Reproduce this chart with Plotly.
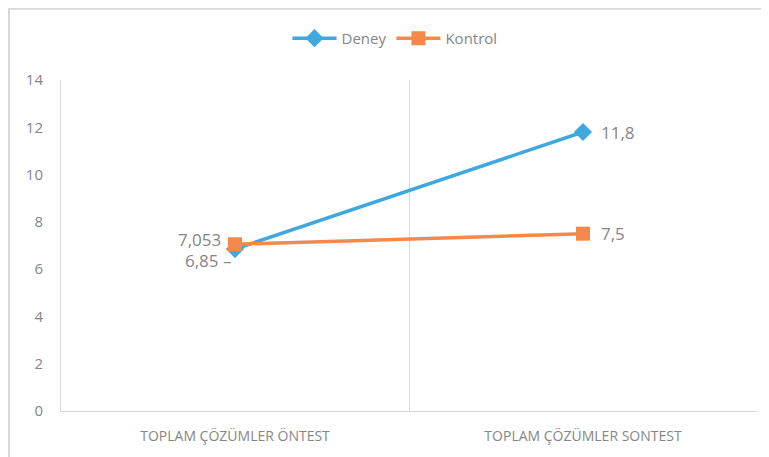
import plotly.graph_objects as go

categories = ["TOPLAM ÇÖZÜMLER ÖNTEST", "TOPLAM ÇÖZÜMLER SONTEST"]
deney = [6.85, 11.8]
kontrol = [7.053, 7.5]
y_ticks = [0, 2, 4, 6, 8, 10, 12, 14]

BLUE = "#3FA8DF"
ORANGE = "#F5894C"
TXT = "#868686"
GRID = "#D9D9D9"
FONT = "Open Sans"

def fmt(v):
    return ("%g" % v).replace(".", ",")

fig = go.Figure()
fig.add_trace(go.Scatter(
    x=categories, y=deney, name="Deney", mode="lines+markers",
    line=dict(color=BLUE, width=3.5),
    marker=dict(symbol="diamond", size=14, color=BLUE),
))
fig.add_trace(go.Scatter(
    x=categories, y=kontrol, name="Kontrol", mode="lines+markers",
    line=dict(color=ORANGE, width=3.5),
    marker=dict(symbol="square", size=14, color=ORANGE),
))

LF = dict(family=FONT, size=17, color=TXT)
annotations = [
    dict(x=categories[0], y=kontrol[0], text=fmt(kontrol[0]), xanchor="right", yanchor="middle",
         xshift=-12, yshift=5, showarrow=False, font=LF),
    dict(x=categories[0], y=deney[0], text=fmt(deney[0]) + " –", xanchor="right", yanchor="middle",
         xshift=-2, yshift=-11, showarrow=False, font=LF),
    dict(x=categories[1], y=deney[1], text=fmt(deney[1]), xanchor="left", yanchor="middle",
         xshift=16, yshift=0, showarrow=False, font=LF),
    dict(x=categories[1], y=kontrol[1], text=fmt(kontrol[1]), xanchor="left", yanchor="middle",
         xshift=16, yshift=0, showarrow=False, font=LF),
]

# figure is placed at an 8px offset by the page body margin
W, H = 761, 449
L, R, T, B = 53, 12, 72, 43
pw, ph = W - L - R, H - T - B
fx = lambda px: (px - L) / pw
fy = lambda py: (H - B - py) / ph

shapes = [
    dict(type="line", xref="paper", yref="paper", x0=fx(0), x1=fx(W + 10), y0=fy(0), y1=fy(0),
         line=dict(color=GRID, width=2)),
    dict(type="line", xref="paper", yref="paper", x0=fx(1), x1=fx(1), y0=fy(0), y1=fy(H + 10),
         line=dict(color=GRID, width=2)),
]

fig.update_layout(
    width=W, height=H,
    margin=dict(l=L, r=R, t=T, b=B),
    paper_bgcolor="white", plot_bgcolor="white",
    font=dict(family=FONT, color=TXT),
    showlegend=True,
    legend=dict(orientation="h", x=fx(387), xanchor="center", y=fy(30), yanchor="middle",
                font=dict(family=FONT, size=15, color=TXT), itemwidth=44,
                bgcolor="rgba(0,0,0,0)"),
    annotations=annotations,
    shapes=shapes,
    xaxis=dict(
        type="category", range=[-0.5, 1.5], tickson="boundaries",
        showgrid=True, gridcolor=GRID, gridwidth=1,
        showline=True, linecolor=GRID, linewidth=1,
        ticks="", ticklabelstandoff=12,
        tickfont=dict(family=FONT, size=14, color=TXT),
        fixedrange=True,
    ),
    yaxis=dict(
        range=[0, 14], tickvals=y_ticks, showgrid=False, zeroline=False,
        showline=True, linecolor=GRID, linewidth=1,
        ticks="", ticklabelstandoff=14,
        tickfont=dict(family=FONT, size=15, color=TXT),
        fixedrange=True,
    ),
)

fig.write_html("out.html")
